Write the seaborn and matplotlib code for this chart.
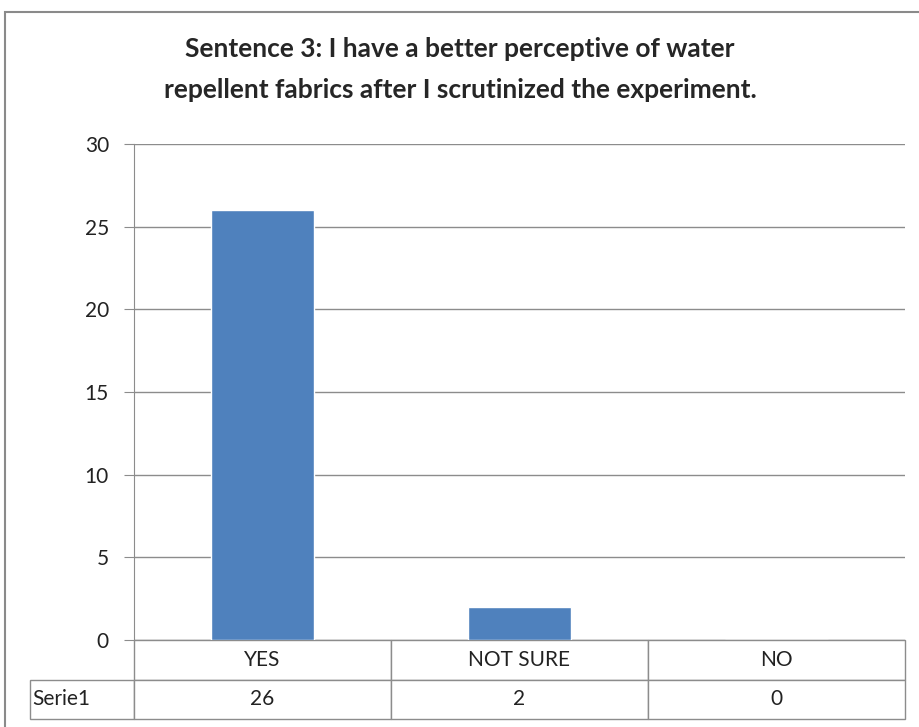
import matplotlib
matplotlib.use('Agg')
import matplotlib.pyplot as plt
from matplotlib.patches import Rectangle
import seaborn as sns
import pandas as pd

categories = ['YES', 'NOT SURE', 'NO']
values = [26, 2, 0]
series_name = 'Serie1'
title = 'Sentence 3: I have a better perceptive of water\nrepellent fabrics after I scrutinized the experiment.'

sns.set_style('white')
plt.rcParams['font.family'] = ['Lato', 'DejaVu Sans']

df = pd.DataFrame({'answer': categories, 'count': values})

fig = plt.figure(figsize=(9.2, 7.27), dpi=100)
ax = fig.add_axes([134 / 920, 1 - 640 / 727, 771 / 920, 496 / 727])

sns.barplot(data=df, x='answer', y='count', color='#4F81BD', saturation=1,
            width=0.4, ax=ax)

grid_col = '#8c8c8c'
ax.set_ylim(0, 30)
ax.set_yticks(range(0, 31, 5))
ax.yaxis.grid(True, color=grid_col, linewidth=1)
ax.set_axisbelow(True)
ax.tick_params(axis='y', left=True, length=7, color=grid_col, labelsize=15,
               pad=11, labelcolor='#222222')
ax.set_xticks([])
ax.set_xlabel('')
ax.set_ylabel('')
for s in ['top', 'right', 'bottom']:
    ax.spines[s].set_visible(False)
ax.spines['left'].set_color(grid_col)

# data table under the plot, Excel style
lab_w = 104 / 771
tab = ax.table(cellText=[[series_name] + [str(v) for v in values]],
               colLabels=[''] + categories,
               colWidths=[lab_w] + [1 / 3] * 3,
               cellLoc='center',
               bbox=[-lab_w, -79 / 496, 1 + lab_w, 79 / 496])
tab.auto_set_font_size(False)
for (r, c), cell in tab.get_celld().items():
    cell.set_edgecolor(grid_col)
    cell.set_linewidth(1)
    cell.get_text().set_fontsize(15)
    cell.get_text().set_color('#222222')
    if r == 0 and c == 0:
        cell.visible_edges = ''
    if r == 1 and c == 0:
        cell.get_text().set_ha('left')
        cell.PAD = 0.02

fig.suptitle(title, x=0.5, y=1 - 37 / 727, fontsize=19, fontweight='bold',
             linespacing=1.85, va='top')

fig.patches.append(Rectangle((5 / 920, -0.1), 1.2, 1 - 12 / 727 + 0.1,
                             transform=fig.transFigure, fill=False,
                             edgecolor='#8a8a8a', linewidth=1.5))

fig.savefig('out.png', dpi=100)
